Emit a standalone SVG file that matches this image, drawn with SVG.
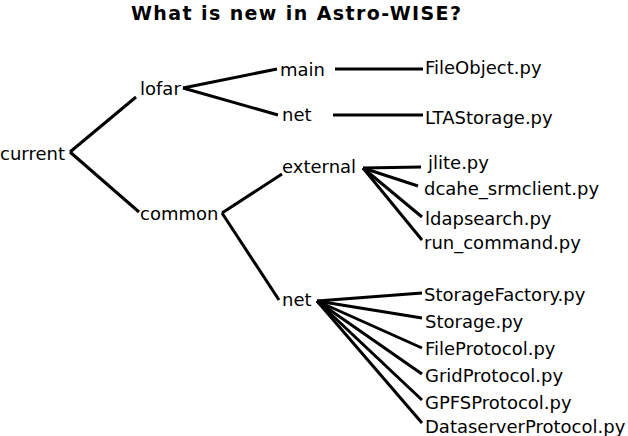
<svg xmlns="http://www.w3.org/2000/svg" width="628" height="436" viewBox="0 0 628 436">
<style>
text{font-family:"DejaVu Sans",sans-serif;font-size:18px;fill:#000}
.t{font-weight:bold;font-size:19px}
#connectors line{stroke:#000;stroke-width:3;stroke-linecap:butt}
</style>
<rect width="628" height="436" fill="#fff"/>
<text class="t" x="131" y="19.5" textLength="330" lengthAdjust="spacing">What is new in Astro-WISE?</text>
<g id="connectors">
<line x1="70" y1="152" x2="136" y2="97"/>
<line x1="70" y1="152" x2="139" y2="212"/>
<line x1="183" y1="88" x2="277" y2="69"/>
<line x1="183" y1="88" x2="278" y2="115"/>
<line x1="222" y1="213" x2="282" y2="174"/>
<line x1="222" y1="213" x2="279" y2="300"/>
<line x1="335" y1="69" x2="423" y2="69"/>
<line x1="333" y1="115" x2="423" y2="115"/>
<line x1="363" y1="168" x2="421" y2="167"/>
<line x1="363" y1="168" x2="418" y2="186"/>
<line x1="363" y1="168" x2="422" y2="217"/>
<line x1="363" y1="168" x2="422" y2="240"/>
<line x1="317" y1="301" x2="422" y2="293"/>
<line x1="317" y1="301" x2="422" y2="318"/>
<line x1="317" y1="301" x2="422" y2="348"/>
<line x1="317" y1="301" x2="422" y2="374"/>
<line x1="317" y1="301" x2="422" y2="400"/>
<line x1="317" y1="301" x2="422" y2="423"/>
</g>
<g id="current"><text x="0" y="160">current</text></g>
<g id="lofar"><text x="140" y="95">lofar</text></g>
<g id="common"><text x="140" y="220">common</text></g>
<g id="main"><text x="280" y="76">main</text></g>
<g id="lofar-net"><text x="282" y="121">net</text></g>
<g id="external"><text x="282" y="173">external</text></g>
<g id="common-net"><text x="282" y="306">net</text></g>
<g id="fileobject"><text x="425" y="74">FileObject.py</text></g>
<g id="ltastorage"><text x="425" y="124">LTAStorage.py</text></g>
<g id="jlite"><text x="428" y="169">jlite.py</text></g>
<g id="dcahe"><text x="424" y="195">dcahe_srmclient.py</text></g>
<g id="ldapsearch"><text x="425" y="225">ldapsearch.py</text></g>
<g id="runcommand"><text x="424" y="249">run_command.py</text></g>
<g id="storagefactory"><text x="424" y="301">StorageFactory.py</text></g>
<g id="storage"><text x="425" y="328">Storage.py</text></g>
<g id="fileprotocol"><text x="425" y="355">FileProtocol.py</text></g>
<g id="gridprotocol"><text x="425" y="382">GridProtocol.py</text></g>
<g id="gpfsprotocol"><text x="425" y="409">GPFSProtocol.py</text></g>
<g id="dataserver"><text x="425" y="433">DataserverProtocol.py</text></g>
</svg>
